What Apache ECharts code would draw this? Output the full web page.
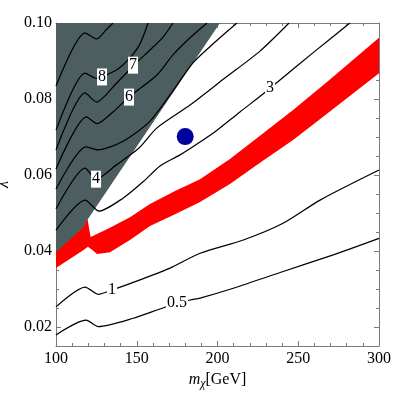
<!DOCTYPE html>
<html>
<head>
<meta charset="utf-8">
<script src="https://cdn.jsdelivr.net/npm/echarts@6/dist/echarts.min.js"></script>
<style>
  html, body { margin: 0; padding: 0; background: #fff; }
  #main { width: 403px; height: 393px; }
</style>
</head>
<body>
<div id="main"></div>
<script>
// contour lines, points are [m_chi, lambda]
var line9 = [[100,0.0834],[118,0.0974],[125.2,0.0958],[131,0.0982],[135.3,0.1]];
var line8 = [[100,0.0718],[118,0.0868],[125.2,0.0854],[128.5,0.0858],[138.4,0.0879],[145.8,0.0908],[152,0.0945],[157,0.1]];
var line7 = [[100,0.0666],[118,0.0816],[125.2,0.0792],[136.5,0.0837],[147.7,0.0887],[158.2,0.0929],[166.3,0.0963],[172.4,0.1]];
var line6 = [[100,0.0616],[118.9,0.0753],[125.4,0.0735],[135.3,0.0766],[145.2,0.0805],[162.5,0.0863],[172.4,0.0916],[183,0.0961],[193.5,0.1]];
var line5 = [[100,0.0563],[118.6,0.0674],[125.8,0.0666],[141.3,0.0688],[157.6,0.0739],[170.6,0.0811],[184.8,0.0895],[198.5,0.0950],[212.1,0.1]];
var line4 = [[100,0.0511],[118,0.0618],[124.8,0.0589],[137.2,0.0626],[151.4,0.0671],[162.5,0.0724],[183,0.0784],[204.6,0.0855],[226.3,0.0926],[244.3,0.1]];
var line3 = [[100,0.0455],[118,0.0534],[126.6,0.0505],[141.5,0.0539],[153.9,0.0582],[164.4,0.0624],[176.8,0.0653],[189.2,0.0687],[199.1,0.0716],[213.9,0.0766],[228.2,0.0813],[238.7,0.0850],[260.4,0.0926],[282,0.1]];
var line1 = [[100,0.0253],[118,0.0305],[126.2,0.0286],[134.5,0.0297],[152,0.0324],[170.6,0.0355],[189.2,0.0394],[216,0.0429],[240.6,0.0473],[263.5,0.0534],[300,0.0613]];
var line05 = [[100,0.0179],[118.6,0.0218],[126.2,0.0201],[147.9,0.0223],[167.5,0.0252],[183,0.0271],[189.2,0.0276],[209.8,0.0302],[240.7,0.0346],[271.7,0.0390],[300,0.0433]];

// red band edges
var redUpper = [[100,0.0397],[116.7,0.0461],[119.5,0.0484],[121.4,0.0437],[124.1,0.0442],[133.4,0.0461],[145.8,0.0489],[158.2,0.0524],[173.7,0.0558],[189.2,0.0589],[207.7,0.0642],[226.3,0.0703],[246.8,0.0771],[267.8,0.0845],[300,0.0961]];
var redLower = [[100,0.0355],[117.3,0.0403],[119.8,0.0411],[122.3,0.0403],[125.4,0.0392],[133.4,0.0397],[145.8,0.0429],[158.2,0.0466],[173.7,0.0497],[189.2,0.0529],[207.7,0.0576],[226.3,0.0632],[246.8,0.0692],[267.8,0.0761],[300,0.0868]];

// excluded (gray) region
var grayRegion = [[100,0.1],[201.5,0.1],[119.6,0.0483],[116.7,0.0459],[100,0.0393]];

var benchmark = [[180,0.0701]];

var contourLabels = [[128.5,0.0858,'8'],[147.7,0.0889,'7'],[145.2,0.0805,'6'],[124.8,0.0589,'4'],[232.5,0.0829,'3'],[134.7,0.0297,'1'],[174.9,0.0263,'0.5']];

var yMajor = [0.02,0.04,0.06,0.08,0.10];

var serif = "'Liberation Serif', 'Times New Roman', serif";
var frame = '#7a7a7a';

var chart = echarts.init(document.getElementById('main'));

function polygon(pts, color) {
  return function (params, api) {
    return {
      type: 'polygon',
      shape: { points: pts.map(function (p) { return api.coord(p); }) },
      style: { fill: color }
    };
  };
}

function contour(pts) {
  return {
    type: 'line', data: pts, showSymbol: false, smooth: 0.25, z: 4,
    lineStyle: { color: '#000', width: 1.25 }, silent: true
  };
}

function xAx(pos, labels) {
  return {
    type: 'value', min: 100, max: 300, interval: 50, position: pos,
    axisLine: { show: true, lineStyle: { color: frame } },
    axisTick: { show: true, inside: true, length: 5, lineStyle: { color: frame } },
    minorTick: { show: true, splitNumber: 5, length: 3, lineStyle: { color: frame } },
    splitLine: { show: false },
    axisLabel: { show: labels, margin: 5, color: '#000', fontFamily: serif, fontSize: 16 }
  };
}

function yAx(pos, labels) {
  return {
    type: 'value', min: 0.015, max: 0.1, interval: 0.005, position: pos,
    axisLine: { show: true, lineStyle: { color: frame } },
    axisTick: { show: true, inside: true, length: 3, lineStyle: { color: frame } },
    splitLine: { show: false },
    axisLabel: {
      show: labels, customValues: yMajor, margin: 4, color: '#000', fontFamily: serif, fontSize: 16,
      formatter: function (v) { return v.toFixed(2); }
    }
  };
}

function yMajorAx(pos) {
  return {
    type: 'value', min: 0.015, max: 0.1, position: pos,
    axisLine: { show: false },
    axisTick: { show: true, inside: true, length: 5, customValues: yMajor, lineStyle: { color: frame } },
    splitLine: { show: false },
    axisLabel: { show: false }
  };
}

var bottom = xAx('bottom', true);
bottom.name = '{m|m}{s|χ}{n|[GeV]}';
bottom.nameLocation = 'middle';
bottom.nameGap = 24;
bottom.nameTextStyle = {
  rich: {
    m: { fontFamily: serif, fontSize: 16, fontStyle: 'italic', color: '#000' },
    s: { fontFamily: serif, fontSize: 12, fontStyle: 'italic', color: '#000', padding: [8, 0, 0, 0] },
    n: { fontFamily: serif, fontSize: 16, color: '#000' }
  }
};

var left = yAx('left', true);
left.name = 'λ';
left.nameLocation = 'middle';
left.nameRotate = 90;
left.nameGap = 44;
left.nameTextStyle = { fontFamily: serif, fontSize: 16, fontStyle: 'italic', color: '#000' };

chart.setOption({
  animation: false,
  backgroundColor: '#fff',
  grid: { left: 56, right: 24, top: 23, bottom: 47, outerBoundsMode: 'none', containLabel: false },
  xAxis: [bottom, xAx('top', false)],
  yAxis: [left, yAx('right', false), yMajorAx('left'), yMajorAx('right')],
  series: [
    { type: 'custom', renderItem: polygon(grayRegion, '#4d5e60'), data: [[150, 0.05]], z: 1, silent: true },
    contour(line9), contour(line8), contour(line7), contour(line6), contour(line5),
    contour(line4), contour(line3), contour(line1), contour(line05),
    { type: 'custom', renderItem: polygon(redUpper.concat(redLower.slice().reverse()), '#ff0000'), data: [[150, 0.05]], z: 5, silent: true },
    {
      type: 'scatter', data: benchmark, symbolSize: 17, z: 6,
      itemStyle: { color: '#00009c', opacity: 1 }
    },
    {
      type: 'scatter', data: contourLabels, symbolSize: 1, z: 7,
      itemStyle: { color: 'rgba(0,0,0,0)', opacity: 1 },
      label: {
        show: true, position: 'inside', color: '#000', fontFamily: serif, fontSize: 16,
        backgroundColor: '#fff', padding: [1, 1, 0, 1],
        formatter: function (p) { return p.value[2]; }
      }
    }
  ]
});
</script>
</body>
</html>
